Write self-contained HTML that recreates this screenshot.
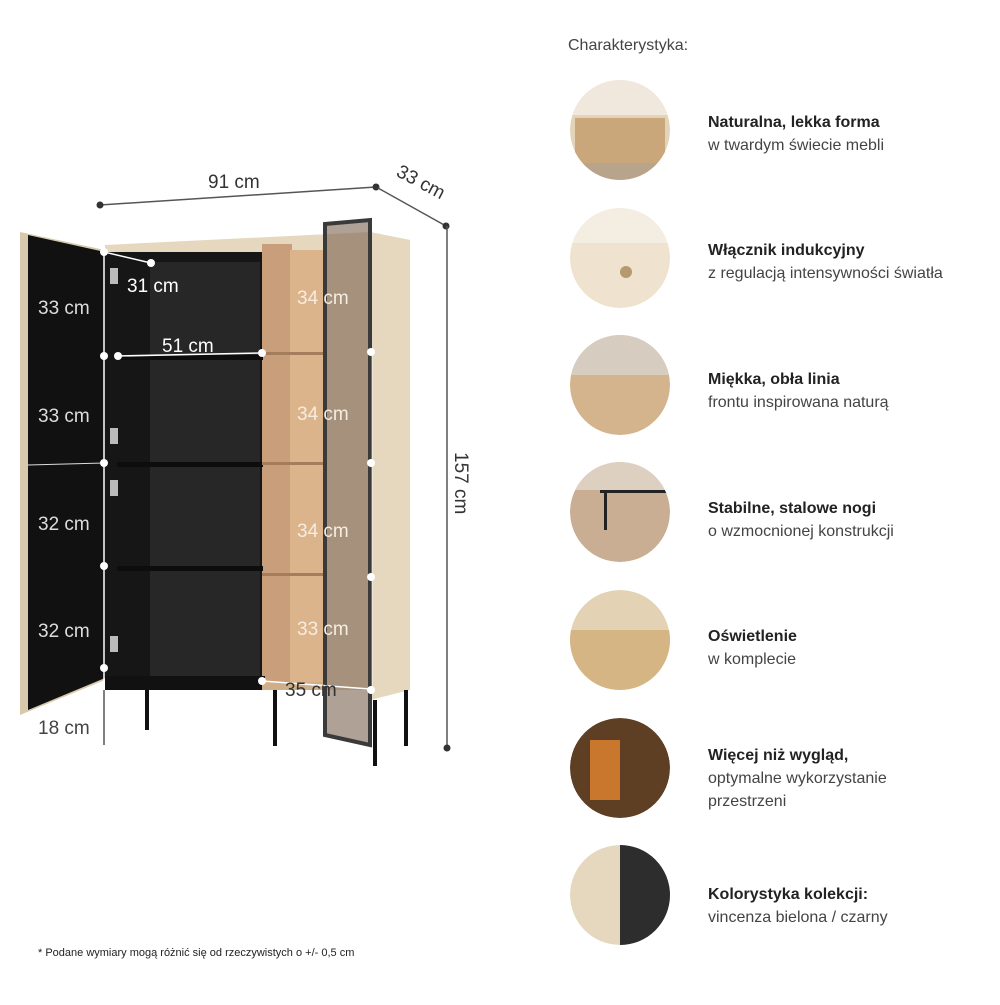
<!DOCTYPE html>
<html><head><meta charset="utf-8"><style>
body{margin:0;background:#fff;}
svg text{font-family:"Liberation Sans",sans-serif;}
</style></head><body>
<svg width="1000" height="1000" viewBox="0 0 1000 1000" xmlns="http://www.w3.org/2000/svg">
<defs>
<clipPath id="c1"><circle cx="620" cy="130" r="50"/></clipPath>
<clipPath id="c2"><circle cx="620" cy="258" r="50"/></clipPath>
<clipPath id="c3"><circle cx="620" cy="385" r="50"/></clipPath>
<clipPath id="c4"><circle cx="620" cy="512" r="50"/></clipPath>
<clipPath id="c5"><circle cx="620" cy="640" r="50"/></clipPath>
<clipPath id="c6"><circle cx="620" cy="768" r="50"/></clipPath>
<clipPath id="c7"><circle cx="620" cy="895" r="50"/></clipPath>
</defs>
<rect width="1000" height="1000" fill="#fff"/>
<line x1="100" y1="205" x2="376" y2="187" stroke="#555" stroke-width="1.5"/>
<circle cx="100" cy="205" r="3.5" fill="#333"/><circle cx="376" cy="187" r="3.5" fill="#333"/>
<text x="208" y="188" font-size="19" fill="#333">91 cm</text>
<line x1="378" y1="188" x2="446" y2="226" stroke="#555" stroke-width="1.5"/>
<circle cx="446" cy="226" r="3.5" fill="#333"/>
<text x="390" y="184" font-size="19" fill="#333" transform="rotate(28 410 190)">33 cm</text>
<line x1="447" y1="226" x2="447" y2="748" stroke="#555" stroke-width="1.5"/>
<circle cx="447" cy="748" r="3.5" fill="#333"/>
<text x="0" y="0" font-size="19" fill="#333" transform="translate(455 452) rotate(90)">157 cm</text>
<polygon points="105,245 370,232 410,240 410,690 105,690" fill="#e6d8bf"/>
<rect x="105" y="252" width="158" height="437" fill="#161616"/>
<rect x="150" y="262" width="110" height="420" fill="#272727"/>
<rect x="262" y="244" width="30" height="445" fill="#c89f7a"/>
<rect x="290" y="250" width="36" height="438" fill="#dcb48c"/>
<rect x="117" y="355" width="146" height="5" fill="#0d0d0d"/>
<rect x="117" y="462" width="146" height="5" fill="#0d0d0d"/>
<rect x="117" y="566" width="146" height="5" fill="#0d0d0d"/>
<rect x="262" y="352" width="64" height="3" fill="#a47e5c"/>
<rect x="262" y="462" width="64" height="3" fill="#a47e5c"/>
<rect x="262" y="573" width="64" height="3" fill="#a47e5c"/>
<rect x="105" y="676" width="160" height="14" fill="#111"/>
<rect x="262" y="682" width="64" height="8" fill="#cfae8a"/>
<polygon points="370,232 410,240 410,690 370,700" fill="#e6d8bf"/>
<rect x="145" y="690" width="4" height="40" fill="#111"/>
<rect x="273" y="690" width="4" height="56" fill="#111"/>
<rect x="404" y="690" width="4" height="56" fill="#111"/>
<rect x="373" y="700" width="4" height="66" fill="#111"/>
<polygon points="325,224 370,220 370,745 325,735" fill="#7a6350" opacity="0.6"/>
<polygon points="325,224 370,220 370,745 325,735" fill="none" stroke="#3a3a3a" stroke-width="4"/>
<polygon points="20,232 105,250 105,680 20,715" fill="#d8c9ad"/>
<polygon points="28,235 105,252 105,678 28,710" fill="#111"/>
<line x1="104" y1="252" x2="104" y2="745" stroke="#fff" stroke-width="1.5"/>
<line x1="104" y1="690" x2="104" y2="745" stroke="#555" stroke-width="1.5"/>
<line x1="28" y1="465" x2="104" y2="463" stroke="#ddd" stroke-width="1"/>
<line x1="104" y1="252" x2="151" y2="263" stroke="#fff" stroke-width="1.5"/>
<line x1="118" y1="356" x2="262" y2="353" stroke="#fff" stroke-width="1.5"/>
<line x1="372" y1="352" x2="372" y2="690" stroke="#fff" stroke-width="1" opacity="0.6"/>
<line x1="262" y1="681" x2="370" y2="689" stroke="#fff" stroke-width="1.5"/>
<g fill="#fff">
<circle cx="104" cy="252" r="4"/><circle cx="151" cy="263" r="4"/><circle cx="104" cy="356" r="4"/><circle cx="118" cy="356" r="4"/>
<circle cx="262" cy="353" r="4"/><circle cx="104" cy="463" r="4"/><circle cx="104" cy="566" r="4"/><circle cx="104" cy="668" r="4"/>
<circle cx="371" cy="352" r="4"/><circle cx="371" cy="463" r="4"/><circle cx="371" cy="577" r="4"/><circle cx="371" cy="690" r="4"/>
<circle cx="262" cy="681" r="4"/>
</g>
<g fill="#bbb"><rect x="110" y="268" width="8" height="16"/><rect x="110" y="428" width="8" height="16"/><rect x="110" y="480" width="8" height="16"/><rect x="110" y="636" width="8" height="16"/></g>
<g font-size="19" fill="#ddd">
<text x="38" y="314">33 cm</text><text x="38" y="422">33 cm</text><text x="38" y="530">32 cm</text><text x="38" y="637">32 cm</text>
<text x="127" y="292" fill="#fff">31 cm</text><text x="162" y="352" fill="#fff">51 cm</text>
<text x="297" y="304" fill="#f6ece0">34 cm</text><text x="297" y="420" fill="#f6ece0">34 cm</text><text x="297" y="537" fill="#f6ece0">34 cm</text><text x="297" y="635" fill="#f6ece0">33 cm</text>
<text x="285" y="696" fill="#333">35 cm</text>
</g>
<text x="38" y="734" font-size="19" fill="#444">18 cm</text>
<text x="38" y="956" font-size="11" fill="#222">* Podane wymiary mogą różnić się od rzeczywistych o +/- 0,5 cm</text>
<text x="568" y="50" font-size="16" fill="#444">Charakterystyka:</text>
<g clip-path="url(#c1)"><circle cx="620" cy="130" r="50" fill="#e3d3b8"/><rect x="570" y="80" width="100" height="35" fill="#f0e8dc"/><rect x="575" y="118" width="90" height="45" fill="#c9a77a"/><rect x="570" y="163" width="100" height="20" fill="#b8a48a"/></g>
<g clip-path="url(#c2)"><circle cx="620" cy="258" r="50" fill="#efe3cf"/><rect x="570" y="208" width="100" height="35" fill="#f4ede2"/><circle cx="626" cy="272" r="6" fill="#b59a70"/></g>
<g clip-path="url(#c3)"><circle cx="620" cy="385" r="50" fill="#d4b48c"/><rect x="570" y="335" width="100" height="40" fill="#d6ccc0"/></g>
<g clip-path="url(#c4)"><circle cx="620" cy="512" r="50" fill="#c9ae94"/><rect x="570" y="462" width="100" height="28" fill="#ddd0c0"/><rect x="600" y="490" width="70" height="3" fill="#222"/><rect x="604" y="490" width="3" height="40" fill="#222"/></g>
<g clip-path="url(#c5)"><circle cx="620" cy="640" r="50" fill="#e4d2b4"/><rect x="570" y="630" width="100" height="60" fill="#d5b584"/></g>
<g clip-path="url(#c6)"><circle cx="620" cy="768" r="50" fill="#5e3f24"/><rect x="590" y="740" width="30" height="60" fill="#c9772c"/></g>
<g clip-path="url(#c7)"><circle cx="620" cy="895" r="50" fill="#e6d8bf"/><rect x="620" y="845" width="50" height="100" fill="#2d2d2d"/></g>
<g font-size="16" fill="#222">
<text x="708" y="127" font-weight="bold">Naturalna, lekka forma</text><text x="708" y="150" fill="#444">w twardym świecie mebli</text>
<text x="708" y="255" font-weight="bold">Włącznik indukcyjny</text><text x="708" y="278" fill="#444">z regulacją intensywności światła</text>
<text x="708" y="384" font-weight="bold">Miękka, obła linia</text><text x="708" y="407" fill="#444">frontu inspirowana naturą</text>
<text x="708" y="513" font-weight="bold">Stabilne, stalowe nogi</text><text x="708" y="536" fill="#444">o wzmocnionej konstrukcji</text>
<text x="708" y="641" font-weight="bold">Oświetlenie</text><text x="708" y="664" fill="#444">w komplecie</text>
<text x="708" y="760" font-weight="bold">Więcej niż wygląd,</text><text x="708" y="783" fill="#444">optymalne wykorzystanie</text><text x="708" y="806" fill="#444">przestrzeni</text>
<text x="708" y="899" font-weight="bold">Kolorystyka kolekcji:</text><text x="708" y="922" fill="#444">vincenza bielona / czarny</text>
</g>
</svg>
</body></html>
